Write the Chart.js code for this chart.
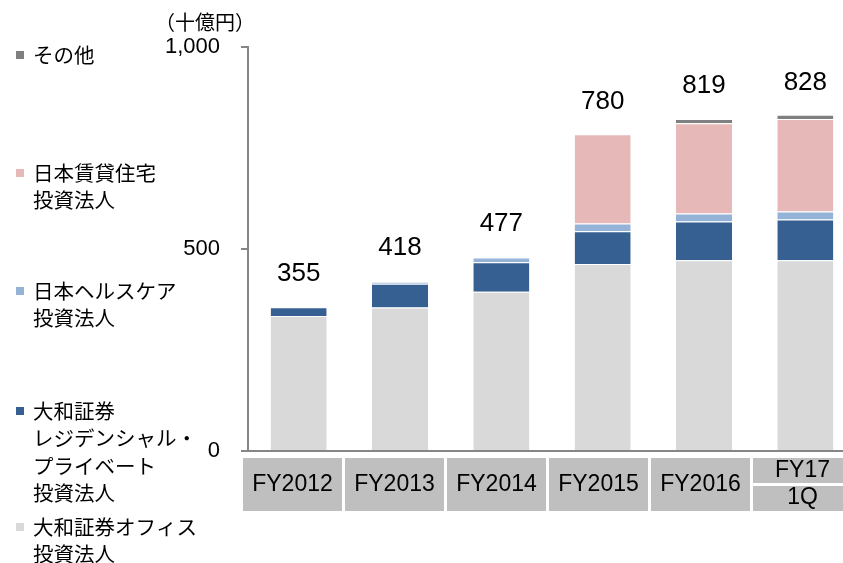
<!DOCTYPE html>
<html>
<head>
<meta charset="utf-8">
<script src="https://cdn.jsdelivr.net/npm/chart.js@4"></script>
<style>
  html, body { margin: 0; padding: 0; background: #fff; overflow: hidden; }
  #wrap { width: 856px; height: 563px; position: relative; }
</style>
</head>
<body>
<div id="wrap"><canvas id="aumChart"></canvas></div>
<script>
// 資産規模の推移 (十億円)
const categories = ['FY2012', 'FY2013', 'FY2014', 'FY2015', 'FY2016', ['FY17', '1Q']];
const office      = [334, 355, 394, 463, 472, 472]; // 大和証券オフィス投資法人
const residential = [22, 59, 73, 81, 96, 101];      // 大和証券レジデンシャル・プライベート投資法人
const healthcare  = [1, 5, 12, 19, 20, 20];         // 日本ヘルスケア投資法人
const rental      = [0, 0, 0, 221, 223, 229];       // 日本賃貸住宅投資法人
const others      = [0, 0, 0, 0, 11, 10];           // その他
const totals      = [355, 418, 477, 780, 819, 828];
const yTicks      = [0, 500, 1000];

const latin = '"Liberation Sans", Arial, sans-serif';
const cjk = '"Noto Sans CJK JP", "Noto Sans", sans-serif';

// legend lines (drawn on the left side)
const legendItems = [
    { ds: 4, lines: ['その他'], y: 55 },
    { ds: 3, lines: ['日本賃貸住宅', '投資法人'], y: 173 },
    { ds: 2, lines: ['日本ヘルスケア', '投資法人'], y: 291 },
    { ds: 1, lines: ['大和証券', 'レジデンシャル・', 'プライベート', '投資法人'], y: 411 },
    { ds: 0, lines: ['大和証券オフィス', '投資法人'], y: 527 }
];

const decor = {
    id: 'decor',
    afterDraw(chart) {
        const ctx = chart.ctx;
        const x = chart.scales.x;
        const y = chart.scales.y;
        ctx.save();

        // totals above bars
        ctx.font = '26px ' + latin;
        ctx.fillStyle = '#000';
        ctx.textAlign = 'center';
        ctx.textBaseline = 'middle';
        totals.forEach((t, i) => {
            ctx.fillText(String(t), x.getPixelForValue(i), y.getPixelForValue(t) - 34);
        });

        // unit
        ctx.font = '20px ' + cjk;
        ctx.fillText('（十億円）', 205, 22);

        // category table
        const left = 243, step = 102, w = 99, top = 458, h = 53;
        ctx.font = '23px ' + latin;
        categories.forEach((c, i) => {
            const bx = left + i * step;
            ctx.fillStyle = '#BFBFBF';
            if (Array.isArray(c)) {
                ctx.fillRect(bx, top, w, 25);
                ctx.fillRect(bx, top + 28, w, 25);
                ctx.fillStyle = '#000';
                ctx.fillText(c[0], bx + w / 2, top + 13);
                ctx.fillText(c[1], bx + w / 2, top + 40);
            } else {
                ctx.fillRect(bx, top, w, h);
                ctx.fillStyle = '#000';
                ctx.fillText(c, bx + w / 2, top + h / 2);
            }
        });

        // legend
        ctx.textAlign = 'left';
        ctx.font = '20.5px ' + cjk;
        legendItems.forEach(item => {
            ctx.fillStyle = chart.data.datasets[item.ds].backgroundColor;
            ctx.fillRect(16, item.y - 4, 8, 8);
            ctx.fillStyle = '#000';
            item.lines.forEach((line, k) => {
                ctx.fillText(line, 33, item.y + k * 27.5);
            });
        });
        ctx.restore();
    }
};

const ds = (label, data, color) => ({
    label: label,
    data: data,
    backgroundColor: color,
    borderColor: '#ffffff',
    borderWidth: { top: 1, left: 0, right: 0, bottom: 0 },
    borderSkipped: false,
    categoryPercentage: 1,
    barPercentage: 0.553
});

new Chart(document.getElementById('aumChart'), {
    type: 'bar',
    data: {
        labels: categories.map(c => Array.isArray(c) ? c.join(' ') : c),
        datasets: [
            ds('大和証券オフィス投資法人', office, '#D9D9D9'),
            ds('大和証券レジデンシャル・プライベート投資法人', residential, '#366092'),
            ds('日本ヘルスケア投資法人', healthcare, '#95B3D7'),
            ds('日本賃貸住宅投資法人', rental, '#E6B9B8'),
            ds('その他', others, '#808080')
        ]
    },
    options: {
        responsive: true,
        maintainAspectRatio: false,
        devicePixelRatio: 1,
        animation: false,
        layout: { padding: { top: 47, left: 0, right: 0, bottom: 0 } },
        plugins: {
            legend: { display: false },
            tooltip: { enabled: false }
        },
        scales: {
            x: {
                stacked: true,
                grid: { display: false },
                border: { display: true, color: '#868686', width: 2 },
                ticks: { display: false },
                afterFit: scale => { scale.height = 112; }
            },
            y: {
                stacked: true,
                min: 0,
                max: 1000,
                afterBuildTicks: scale => { scale.ticks = yTicks.map(v => ({ value: v })); },
                grid: { drawOnChartArea: false, drawTicks: true, tickLength: 7, color: '#868686', lineWidth: 2 },
                border: { display: true, color: '#868686', width: 2 },
                ticks: {
                    color: '#000',
                    padding: 21,
                    font: { family: latin, size: 22 },
                    callback: v => v.toLocaleString('en-US')
                },
                afterFit: scale => { scale.width = 248; }
            }
        }
    },
    plugins: [decor]
});
</script>
</body>
</html>
